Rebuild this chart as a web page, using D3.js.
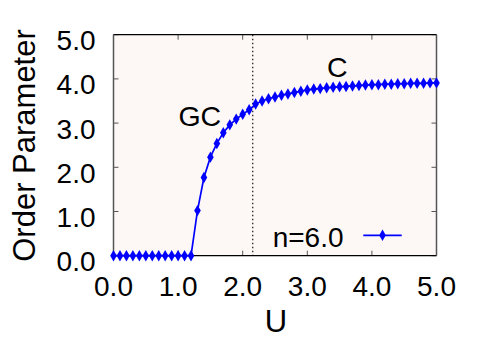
<!DOCTYPE html>
<html><head><meta charset="utf-8">
<script src="https://cdn.jsdelivr.net/npm/d3@7"></script>
<style>body{margin:0;background:#fff}svg{display:block}text{font-family:"Liberation Sans",Arial,sans-serif;fill:#000}</style>
</head><body><svg id="c" width="491" height="342"></svg>
<script>
const U = [0.0,0.1,0.2,0.3,0.4,0.5,0.6,0.7,0.8,0.9,1.0,1.1,1.2,1.3,1.4,1.5,1.6,1.7,1.8,1.9,2.0,2.1,2.2,2.3,2.4,2.5,2.6,2.7,2.8,2.9,3.0,3.1,3.2,3.3,3.4,3.5,3.6,3.7,3.8,3.9,4.0,4.1,4.2,4.3,4.4,4.5,4.6,4.7,4.8,4.9,5.0];
const orderParam = [0,0,0,0,0,0,0,0,0,0,0,0,0,1.02,1.77,2.23,2.54,2.78,2.96,3.09,3.20,3.30,3.43,3.50,3.55,3.59,3.63,3.66,3.69,3.72,3.75,3.77,3.78,3.80,3.81,3.82,3.83,3.84,3.85,3.86,3.87,3.87,3.88,3.88,3.89,3.89,3.90,3.90,3.90,3.91,3.91];
const xTicks = [0,1,2,3,4,5];
const yTicks = [0,1,2,3,4,5];
const seriesLabel = "n=6.0";
const boundaryU = 2.155;
const regionLabels = [{text:"GC",u:1.02,v:2.93},{text:"C",u:3.32,v:4.05}];

const svg = d3.select("#c");
const L=113.5,R=436.5,T=34.7,B=255.7;
const x = d3.scaleLinear().domain([0,5]).range([L,R]);
const y = d3.scaleLinear().domain([0,5]).range([B,T]);

svg.append("rect").attr("x",L).attr("y",T).attr("width",R-L).attr("height",B-T).attr("fill","#fdf8f6");

const tk=5;
const g = svg.append("g").attr("stroke","#555").attr("stroke-width",1);
xTicks.forEach(t=>{
  g.append("line").attr("x1",x(t)).attr("x2",x(t)).attr("y1",B).attr("y2",B-tk);
  g.append("line").attr("x1",x(t)).attr("x2",x(t)).attr("y1",T).attr("y2",T+tk);
});
yTicks.forEach(t=>{
  g.append("line").attr("y1",y(t)).attr("y2",y(t)).attr("x1",L).attr("x2",L+tk);
  g.append("line").attr("y1",y(t)).attr("y2",y(t)).attr("x1",R).attr("x2",R-tk);
});

svg.append("line").attr("x1",x(boundaryU)).attr("x2",x(boundaryU)).attr("y1",T).attr("y2",B)
  .attr("stroke","#333").attr("stroke-width",1.4).attr("stroke-dasharray","1.5,2.5");

svg.append("line").attr("x1",L).attr("x2",R).attr("y1",T).attr("y2",T).attr("stroke","#000").attr("stroke-width",1.2);
svg.append("line").attr("x1",L).attr("x2",R).attr("y1",B).attr("y2",B).attr("stroke","#000").attr("stroke-width",1.2);
svg.append("line").attr("x1",L).attr("x2",L).attr("y1",T).attr("y2",B).attr("stroke","#555").attr("stroke-width",1.5);
svg.append("line").attr("x1",R).attr("x2",R).attr("y1",T).attr("y2",B).attr("stroke","#555").attr("stroke-width",1.5);

xTicks.forEach(t=>svg.append("text").attr("x",x(t)).attr("y",B+40.3).attr("text-anchor","middle").attr("font-size",28).text(t.toFixed(1)));
yTicks.forEach(t=>svg.append("text").attr("x",L-18).attr("y",y(t)+15.5).attr("text-anchor","end").attr("font-size",28).text(t.toFixed(1)));

svg.append("text").attr("x",276).attr("y",332).attr("text-anchor","middle").attr("font-size",31).text("U");
svg.append("text").attr("transform","translate(35,145.5) rotate(-90)").attr("text-anchor","middle").attr("font-size",31).text("Order Parameter");

const data = U.map((u,i)=>({u,v:orderParam[i]}));
const line = d3.line().x(d=>x(d.u)).y(d=>y(d.v));
svg.append("path").datum(data).attr("d",line).attr("fill","none").attr("stroke","#0000ff").attr("stroke-width",1.7);
const diamond = d3.symbol().type(d3.symbolDiamond).size(38);
svg.append("g").selectAll("path").data(data).join("path")
  .attr("transform",d=>`translate(${x(d.u)},${y(d.v)})`).attr("d",diamond).attr("fill","#0000ff");

regionLabels.forEach(r=>svg.append("text").attr("x",x(r.u)-1).attr("y",y(r.v)).attr("font-size",28.5).text(r.text));

svg.append("text").attr("x",343.5).attr("y",246.7).attr("text-anchor","end").attr("font-size",28).text(seriesLabel);
svg.append("line").attr("x1",363.3).attr("x2",401.7).attr("y1",235.3).attr("y2",235.3).attr("stroke","#0000ff").attr("stroke-width",1.7);
svg.append("path").attr("transform","translate(382.5,235.3)").attr("d",diamond).attr("fill","#0000ff");
</script></body></html>
